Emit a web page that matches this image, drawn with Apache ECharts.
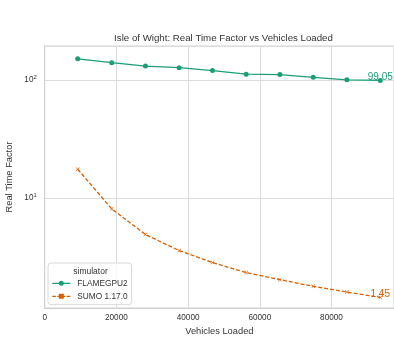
<!DOCTYPE html>
<html><head><meta charset="utf-8">
<script src="https://cdn.jsdelivr.net/npm/echarts@6/dist/echarts.min.js"></script>
<style>html,body{margin:0;padding:0;background:#fff}#c{width:394px;height:343px}</style>
</head><body><div id="c"></div>
<script>
const vehicles = [9200, 18700, 28100, 37500, 46800, 56200, 65600, 74900, 84300, 93600];
const flamegpu2 = [151, 140, 131, 127, 120, 112, 111, 105.4, 100.3, 99.05];
const sumo = [17.6, 8.13, 4.94, 3.61, 2.86, 2.35, 2.05, 1.80, 1.61, 1.45];
const xTicks = [0, 20000, 40000, 60000, 80000];
const seriesNames = ['FLAMEGPU2', 'SUMO 1.17.0'];

const FONT = 'Liberation Sans';
const green = '#1b9e77', orange = '#d95f02';
const n = vehicles.length;
const pairs = ys => vehicles.map((x, i) => [x, ys[i]]);
const lastLabel = p => p.dataIndex === n - 1 ? String(p.value[1]) : '';

const chart = echarts.init(document.getElementById('c'), null, {renderer: 'canvas'});
chart.setOption({
  animation: false,
  backgroundColor: '#fff',
  textStyle: {fontFamily: FONT},
  title: [
    {text: 'Isle of Wight: Real Time Factor vs Vehicles Loaded', left: 223.5, top: 33, textAlign: 'center', padding: 0,
     textStyle: {fontFamily: FONT, fontSize: 9.7, fontWeight: 'normal', color: '#333'}},
    {text: 'simulator', left: 90.5, top: 267, textAlign: 'center', padding: 0,
     textStyle: {fontFamily: FONT, fontSize: 8.5, fontWeight: 'normal', color: '#333'}}
  ],
  grid: {left: 44.7, right: 0, top: 46, bottom: 35, show: true, borderColor: '#d0d0d0', borderWidth: 1,
    containLabel: false, outerBoundsMode: 'none'},
  xAxis: {
    type: 'value', min: 0, max: 97434, interval: 20000,
    name: 'Vehicles Loaded', nameLocation: 'middle', nameGap: 17,
    nameTextStyle: {fontFamily: FONT, fontSize: 9.3, color: '#333'},
    axisLine: {show: true, lineStyle: {color: '#d0d0d0'}},
    axisTick: {show: false},
    axisLabel: {fontFamily: FONT, fontSize: 8.2, color: '#333', margin: 6, showMaxLabel: false,
      formatter: v => xTicks.includes(v) ? String(v) : ''},
    splitLine: {show: true, lineStyle: {color: '#dcdcdc', width: 1}}
  },
  yAxis: {
    type: 'log', logBase: 10, min: 1.18, max: 193.8,
    name: 'Real Time Factor', nameLocation: 'middle', nameGap: 26,
    nameTextStyle: {fontFamily: FONT, fontSize: 9.3, color: '#333'},
    axisLine: {show: true, lineStyle: {color: '#d0d0d0'}},
    axisTick: {show: false},
    minorTick: {show: false},
    axisLabel: {
      fontFamily: FONT, fontSize: 8.2, color: '#333', margin: 8, showMinLabel: false, showMaxLabel: false,
      formatter: v => {
        const l = Math.log10(v);
        if (Math.abs(l - Math.round(l)) < 1e-6) return '10{sup|' + Math.round(l) + '}';
        return '';
      },
      rich: {sup: {fontSize: 5.8, verticalAlign: 'top', padding: [0, 0, 6, 0], color: '#333', fontFamily: FONT}}
    },
    splitLine: {show: true, lineStyle: {color: '#dcdcdc', width: 1}}
  },
  legend: {
    left: 48, top: 263, orient: 'vertical',
    padding: [15.3, 4, 3.4, 4.3],
    backgroundColor: 'rgba(255,255,255,0.8)', borderColor: '#d8d8d8', borderWidth: 1, borderRadius: 3,
    itemWidth: 18, itemHeight: 5, itemGap: 3,
    textStyle: {fontFamily: FONT, fontSize: 8.3, color: '#333', lineHeight: 10, padding: [0, 0, 0, 2]},
    data: [
      {name: seriesNames[0], icon: 'path://M0,1.9h18v1.2h-18z M6.5,2.5a2.5,2.5 0 1,1 5,0a2.5,2.5 0 1,1 -5,0z'},
      {name: seriesNames[1], icon: 'path://M0,1.9h3.6v1.2h-3.6z M5,1.9h2v1.2h-2z M11,1.9h2v1.2h-2z M14.4,1.9h3.6v1.2h-3.6z M6.5,0h5v5h-5z'}
    ]
  },
  series: [
    {
      name: seriesNames[0], type: 'line', data: pairs(flamegpu2),
      symbol: 'circle', symbolSize: 5,
      lineStyle: {color: green, width: 1.3},
      itemStyle: {color: green},
      label: {show: true, formatter: lastLabel, position: 'inside', offset: [0, -3],
        fontFamily: FONT, fontSize: 10, color: green}
    },
    {
      name: seriesNames[1], type: 'line', data: pairs(sumo),
      symbol: 'path://M0,1L1,0L5,4L9,0L10,1L6,5L10,9L9,10L5,6L1,10L0,9L4,5Z', symbolSize: 4,
      lineStyle: {color: orange, width: 1.3, type: [4, 2]},
      itemStyle: {color: orange},
      label: {show: true, formatter: lastLabel, position: 'inside', offset: [0, -3],
        fontFamily: FONT, fontSize: 10, color: orange}
    }
  ]
});
</script></body></html>
